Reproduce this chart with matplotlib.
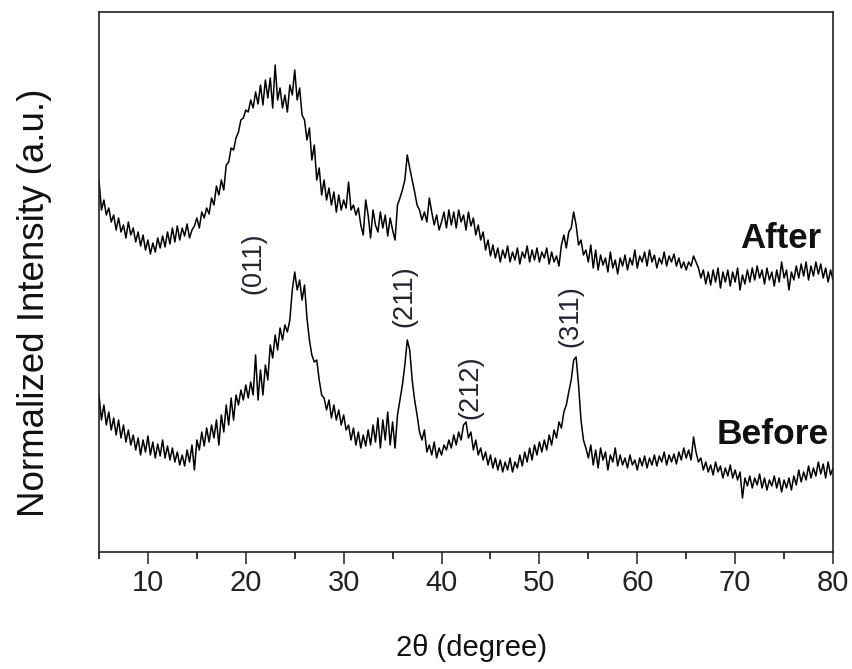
import numpy as np
import matplotlib
matplotlib.use("Agg")
import matplotlib.pyplot as plt
from matplotlib.ticker import MultipleLocator, NullLocator

plt.rcParams['font.family'] = ['Liberation Sans', 'DejaVu Sans']

# 2-theta sampling grid (degrees), 0.25 deg step from 5 to 80
two_theta = np.linspace(5, 80, 301)

# Normalized intensity (a.u.), "After" pattern
after = [
    368, 338, 348, 333, 340, 326, 333, 318,
    330, 316, 323, 310, 326, 313, 320, 306,
    316, 302, 313, 298, 308, 294, 305, 296,
    310, 300, 312, 301, 316, 304, 320, 306,
    322, 308, 320, 312, 324, 310, 318, 322,
    330, 320, 336, 330, 340, 334, 350, 343,
    362, 353, 368, 358, 383, 386, 400, 398,
    410, 416, 428, 430, 438, 436, 448, 440,
    456, 444, 463, 443, 468, 450, 470, 440,
    483, 448, 460, 440, 453, 436, 463, 453,
    478, 448, 460, 433, 428, 408, 420, 388,
    403, 368, 380, 353, 368, 348, 360, 343,
    356, 336, 353, 338, 348, 340, 366, 338,
    343, 333, 340, 323, 313, 348, 333, 310,
    338, 323, 316, 336, 320, 333, 312, 330,
    318, 308, 343, 350, 358, 368, 393, 380,
    368, 356, 343, 338, 328, 336, 326, 350,
    336, 323, 333, 318, 326, 336, 320, 338,
    323, 336, 320, 338, 326, 333, 318, 336,
    322, 330, 313, 323, 308, 316, 298, 308,
    292, 303, 290, 300, 286, 298, 290, 302,
    286, 296, 288, 300, 284, 296, 290, 302,
    286, 298, 288, 300, 286, 296, 290, 300,
    284, 296, 286, 292, 282, 303, 313, 300,
    316, 320, 336, 323, 303, 308, 293, 298,
    286, 303, 280, 298, 278, 293, 283, 290,
    276, 296, 280, 288, 274, 290, 282, 293,
    278, 290, 283, 298, 280, 292, 286, 296,
    282, 298, 286, 293, 280, 290, 284, 296,
    282, 292, 286, 294, 282, 290, 280, 286,
    278, 286, 282, 292, 286, 280, 270, 278,
    264, 276, 263, 278, 266, 280, 260, 276,
    266, 278, 262, 276, 266, 280, 258, 273,
    264, 278, 266, 280, 268, 282, 270, 278,
    264, 280, 268, 276, 262, 278, 266, 286,
    270, 278, 258, 276, 268, 282, 270, 284,
    272, 286, 268, 282, 272, 286, 274, 284,
    270, 280, 266, 278, 268,
]

# Normalized intensity (a.u.), "Before" pattern
before = [
    153, 128, 143, 123, 136, 118, 130, 113,
    128, 110, 123, 106, 118, 103, 113, 98,
    110, 93, 108, 96, 112, 93, 106, 90,
    104, 92, 108, 90, 102, 88, 100, 86,
    96, 83, 93, 82, 98, 86, 103, 78,
    108, 98, 116, 102, 120, 106, 123, 110,
    128, 103, 133, 116, 143, 123, 150, 128,
    153, 143, 158, 148, 163, 150, 166, 153,
    193, 148, 178, 153, 183, 168, 203, 190,
    213, 198, 220, 208, 223, 216, 228, 258,
    276, 258, 268, 248, 263, 230, 208, 193,
    186, 188, 168, 153, 150, 138, 148, 130,
    143, 128, 138, 123, 133, 118, 123, 108,
    120, 103, 116, 100, 113, 102, 118, 103,
    123, 106, 130, 100, 128, 108, 136, 103,
    126, 100, 133, 148, 163, 183, 208, 198,
    168, 148, 133, 116, 108, 118, 96, 103,
    93, 106, 90, 100, 93, 103, 98, 108,
    100, 113, 103, 116, 108, 123, 126, 110,
    116, 98, 108, 93, 100, 88, 96, 83,
    93, 80, 90, 78, 88, 76, 86, 78,
    90, 76, 86, 80, 93, 82, 96, 86,
    100, 88, 103, 93, 106, 96, 108, 98,
    113, 103, 118, 110, 126, 120, 136, 143,
    156, 168, 188, 191, 163, 128, 108, 100,
    90, 103, 83, 98, 80, 100, 88, 96,
    78, 93, 86, 100, 82, 93, 83, 90,
    80, 93, 83, 88, 78, 90, 82, 92,
    80, 90, 83, 93, 82, 92, 86, 96,
    83, 93, 86, 94, 84, 96, 88, 100,
    90, 98, 88, 111, 96, 86, 90, 78,
    86, 76, 83, 73, 86, 76, 82, 70,
    80, 72, 83, 70, 78, 68, 76, 50,
    70, 62, 72, 60, 70, 63, 74, 60,
    70, 58, 68, 62, 72, 60, 70, 56,
    68, 60, 70, 58, 72, 63, 78, 66,
    76, 68, 82, 70, 80, 72, 86, 74,
    84, 70, 86, 73, 80,
]

series_labels = ["After", "Before"]
peak_labels = ["(011)", "(211)", "(212)", "(311)"]
peak_pos = [20.8, 36.2, 42.9, 53.2]      # 2-theta of label centre
peak_level = [285, 252, 161, 232]         # intensity of label centre

W, H = 853, 669
fig = plt.figure(figsize=(W / 100, H / 100), dpi=100)
L, R, T, B = 99, 833, 12, 552
ax = fig.add_axes([L / W, (H - B) / H, (R - L) / W, (B - T) / H])

ax.plot(two_theta, after, color='black', lw=1.1)
ax.plot(two_theta, before, color='black', lw=1.1)

ax.set_xlim(5, 80)
ax.set_ylim(-4, 536)

ax.xaxis.set_major_locator(MultipleLocator(10))
ax.xaxis.set_minor_locator(MultipleLocator(5))
ax.yaxis.set_major_locator(NullLocator())
ax.yaxis.set_minor_locator(NullLocator())
ax.tick_params(axis='x', which='major', direction='out', length=8.5, width=1.1,
               labelsize=21, pad=4, colors='#222222')
ax.tick_params(axis='x', which='minor', direction='out', length=5, width=1.1)
for s in ax.spines.values():
    s.set_linewidth(1.2)
    s.set_color('#222222')

ax.set_xlabel("2θ (degree)", fontsize=21, va='center', color='#111111')
ax.xaxis.set_label_coords((472 - L) / (R - L), (B - 648) / (B - T))
ax.set_ylabel("Normalized Intensity (a.u.)", fontsize=26.5, va='center', color='#111111')
ax.yaxis.set_label_coords((35 - L) / (R - L), (B - 303) / (B - T))

ax.text(78.8, 309, series_labels[0], fontsize=25, fontweight='bold',
        ha='right', va='center', color='#111111')
ax.text(79.6, 113, series_labels[1], fontsize=25.5, fontweight='bold',
        ha='right', va='center', color='#111111')

for lab, xp, yp in zip(peak_labels, peak_pos, peak_level):
    ax.text(xp, yp, lab, rotation=90, fontsize=19.5, ha='center', va='center',
            color='#222233')

fig.savefig("out.png", dpi=100)
